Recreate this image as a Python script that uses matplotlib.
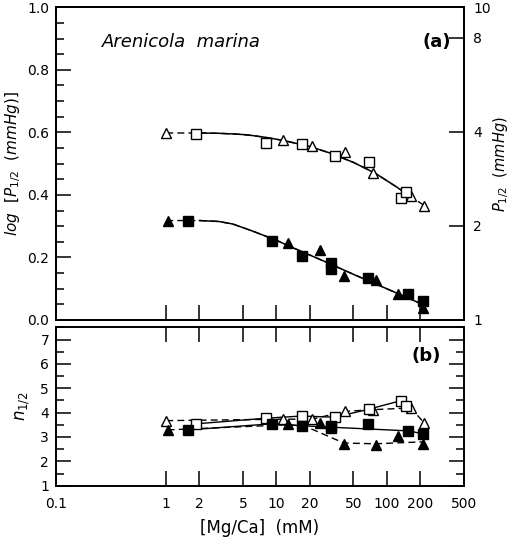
import matplotlib
matplotlib.use('Agg')
import matplotlib.pyplot as plt

plt.rcParams['font.family'] = 'DejaVu Sans'
plt.rcParams['mathtext.fontset'] = 'dejavusans'
plt.rcParams['mathtext.default'] = 'it'

# Mg/Ca concentrations (mM) for each series
open_tri_x = [1.0, 11.4, 21, 42, 75, 166, 218]
open_sq_x = [1.87, 8.1, 17, 34, 69, 135, 149]
filled_tri_x = [1.03, 12.7, 25, 41, 79.5, 127, 215]
filled_sq_x = [1.57, 9.1, 17, 31.6, 31.6, 68, 157, 215]

# panel (a): log P1/2
open_tri_logp = [0.597, 0.574, 0.556, 0.537, 0.469, 0.395, 0.366]
open_sq_logp = [0.595, 0.565, 0.563, 0.523, 0.505, 0.391, 0.409]
filled_tri_logp = [0.318, 0.245, 0.224, 0.141, 0.128, 0.083, 0.037]
filled_sq_logp = [0.315, 0.253, 0.205, 0.181, 0.162, 0.133, 0.083, 0.062]

# fitted curves in panel (a)
fit_x = [1, 2, 3, 4, 5, 6, 8, 10, 12, 15, 20, 30, 50, 80, 120, 160, 220]
upper_fit = [0.598, 0.598, 0.597, 0.595, 0.593, 0.590, 0.584, 0.578, 0.573, 0.565, 0.555,
             0.535, 0.504, 0.468, 0.428, 0.398, 0.366]
lower_fit = [0.318, 0.318, 0.315, 0.307, 0.295, 0.285, 0.268, 0.255, 0.242, 0.227, 0.208,
             0.181, 0.146, 0.115, 0.088, 0.069, 0.047]

# panel (b): n1/2
open_tri_n = [3.67, 3.73, 3.73, 4.05, 4.12, 4.19, 3.59]
open_sq_n = [3.54, 3.77, 3.86, 3.81, 4.14, 4.49, 4.28]
filled_tri_n = [3.29, 3.53, 3.59, 2.72, 2.67, 3.05, 2.72]
filled_sq_n = [3.29, 3.54, 3.46, 3.45, 3.35, 3.54, 3.25, 3.13]

# guide lines in panel (b)
filled_sq_line_x = [1.57, 9.1, 17, 31.6, 157, 215]
filled_sq_line_n = [3.29, 3.54, 3.46, 3.40, 3.25, 3.13]
filled_tri_line_x = [1.03, 12.7, 18, 41, 79.5, 215]
filled_tri_line_n = [3.29, 3.50, 3.45, 2.75, 2.72, 2.80]

xticks = [0.1, 1, 2, 5, 10, 20, 50, 100, 200, 500]
xticklabels = ['0.1', '1', '2', '5', '10', '20', '50', '100', '200', '500']

fig = plt.figure(figsize=(5.1, 5.44), dpi=100)
ax1 = fig.add_axes([0.110, 0.4118, 0.799, 0.5748])
ax2 = fig.add_axes([0.110, 0.1072, 0.799, 0.2911])

dash = (0, (5, 3))
ms = 7

# ---- panel (a)
ax1.plot(fit_x, upper_fit, color='black', lw=1.0, linestyle=dash)
ax1.plot(fit_x[1:-1], upper_fit[1:-1], color='black', lw=1.1)
ax1.plot(fit_x, lower_fit, color='black', lw=1.0, linestyle=dash)
ax1.plot(fit_x[1:], lower_fit[1:], color='black', lw=1.1)

ax1.plot(open_tri_x, open_tri_logp, '^', ms=ms, mfc='white', mec='black', mew=1.0, ls='none')
ax1.plot(open_sq_x, open_sq_logp, 's', ms=ms, mfc='white', mec='black', mew=1.0, ls='none')
ax1.plot(filled_tri_x, filled_tri_logp, '^', ms=ms, color='black', ls='none')
ax1.plot(filled_sq_x, filled_sq_logp, 's', ms=ms, color='black', ls='none')

ax1.set_xscale('log')
ax1.set_xlim(0.1, 500)
ax1.set_ylim(0, 1.0)
ax1.set_xticks(xticks)
ax1.set_xticklabels([])
ax1.xaxis.set_minor_locator(matplotlib.ticker.NullLocator())
ax1.set_yticks([0.0, 0.2, 0.4, 0.6, 0.8, 1.0])
ax1.set_yticklabels(['0.0', '0.2', '0.4', '0.6', '0.8', '1.0'])
ax1.yaxis.set_minor_locator(matplotlib.ticker.MultipleLocator(0.05))
ax1.tick_params(which='major', direction='in', length=10.5, width=1.1, labelsize=10, pad=5,
                top=False, right=False)
ax1.tick_params(which='minor', direction='in', length=5.5, width=1.1, top=False, right=False)
ax1.set_ylabel('$log\\ \\ [P_{1/2}\\ \\ (mmHg)]$', fontsize=11, labelpad=3)
ax1.text(0.113, 0.889, 'Arenicola  marina', transform=ax1.transAxes, fontsize=13,
         style='italic', va='center', ha='left')
ax1.text(0.935, 0.89, '(a)', transform=ax1.transAxes, fontsize=13, fontweight='bold',
         va='center', ha='center')

ax1r = ax1.twinx()
ax1r.set_yscale('log')
ax1r.set_ylim(1, 10)
ax1r.set_yticks([1, 2, 4, 8, 10])
ax1r.set_yticklabels(['1', '2', '4', '8', '10'])
ax1r.yaxis.set_minor_locator(matplotlib.ticker.NullLocator())
ax1r.tick_params(which='major', direction='in', length=10.5, width=1.1, labelsize=10, pad=7)
ax1r.set_ylabel('$P_{1/2}\\ \\ (mmHg)$', fontsize=10.5, labelpad=0)

# ---- panel (b)
ax2.plot(open_tri_x, open_tri_n, color='black', lw=1.0, linestyle=dash)
ax2.plot(open_sq_x, open_sq_n, color='black', lw=1.0)
ax2.plot(filled_tri_line_x, filled_tri_line_n, color='black', lw=1.0, linestyle=dash)
ax2.plot(filled_sq_line_x, filled_sq_line_n, color='black', lw=1.0)

ax2.plot(open_tri_x, open_tri_n, '^', ms=ms, mfc='white', mec='black', mew=1.0, ls='none')
ax2.plot(open_sq_x, open_sq_n, 's', ms=ms, mfc='white', mec='black', mew=1.0, ls='none')
ax2.plot(filled_tri_x, filled_tri_n, '^', ms=ms, color='black', ls='none')
ax2.plot(filled_sq_x, filled_sq_n, 's', ms=ms, color='black', ls='none')

ax2.set_xscale('log')
ax2.set_xlim(0.1, 500)
ax2.set_ylim(1, 7.5)
ax2.set_xticks(xticks)
ax2.set_xticklabels(xticklabels)
ax2.xaxis.set_minor_locator(matplotlib.ticker.NullLocator())
ax2.set_yticks([1, 2, 3, 4, 5, 6, 7])
ax2.yaxis.set_minor_locator(matplotlib.ticker.MultipleLocator(0.5))
ax2.tick_params(which='major', direction='in', length=10.5, width=1.1, labelsize=10, pad=5,
                top=True, right=True)
ax2.tick_params(axis='x', which='major', pad=8)
ax2.tick_params(which='minor', direction='in', length=5.5, width=1.1, top=False, right=True)
ax2.set_ylabel('$n_{1/2}$', fontsize=12, labelpad=6)
ax2.set_xlabel('[Mg/Ca]  (mM)', fontsize=12, labelpad=6)
ax2.text(0.908, 0.82, '(b)', transform=ax2.transAxes, fontsize=13, fontweight='bold',
         va='center', ha='center')

for ax in (ax1, ax2, ax1r):
    for sp in ax.spines.values():
        sp.set_linewidth(1.4)

fig.savefig('out.png', dpi=100)
